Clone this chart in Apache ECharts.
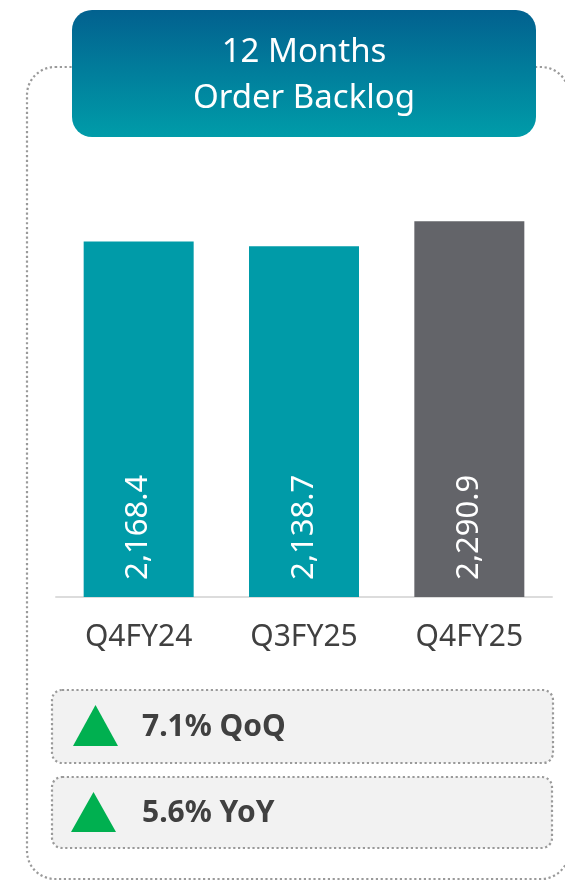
<!DOCTYPE html>
<html>
<head>
<meta charset="utf-8">
<script src="https://cdn.jsdelivr.net/npm/echarts@6/dist/echarts.min.js"></script>
<style>
  html, body { margin: 0; padding: 0; background: #fff; }
  #chart { width: 565px; height: 880px; }
</style>
</head>
<body>
<div id="chart"></div>
<script>
const titleLines = ['12 Months', 'Order Backlog'];
const categories = ['Q4FY24', 'Q3FY25', 'Q4FY25'];
const backlog = [2168.4, 2138.7, 2290.9];
const changes = ['7.1% QoQ', '5.6% YoY'];

const TEAL = '#009ba8';
const GREY = '#636469';
const FONT = '"Noto Sans", sans-serif';
const DOTS = { stroke: '#9a9a9a', lineWidth: 2.2, lineDash: [2.2, 2.6] };

const chart = echarts.init(document.getElementById('chart'));

// boxes under the chart for the growth figures
const changeBoxes = [
  { x: 52, y: 690, w: 501, h: 73, tri: [73, 705, 118, 746], tx: 142 },
  { x: 52, y: 777, w: 500, h: 71, tri: [71, 792, 116, 832], tx: 142 }
];

const graphics = [
  // dotted outer frame
  {
    type: 'rect', z: 1,
    shape: { x: 27, y: 67, width: 542, height: 812, r: 28 },
    style: Object.assign({ fill: 'none' }, DOTS)
  },
  // title box
  {
    type: 'rect', z: 2,
    shape: { x: 72, y: 10, width: 464, height: 127, r: 20 },
    style: {
      fill: new echarts.graphic.LinearGradient(0, 0, 0, 1, [
        { offset: 0, color: '#02618f' },
        { offset: 1, color: '#009ca9' }
      ])
    }
  }
];

titleLines.forEach((line, i) => {
  graphics.push({
    type: 'text', z: 3,
    x: 304, y: 53 + i * 46,
    style: {
      text: line, fill: '#fff', font: '33px ' + FONT,
      textAlign: 'center', textVerticalAlign: 'middle'
    }
  });
});

changes.forEach((txt, i) => {
  const b = changeBoxes[i];
  graphics.push({
    type: 'rect', z: 2,
    shape: { x: b.x, y: b.y, width: b.w, height: b.h, r: 10 },
    style: Object.assign({ fill: '#f2f2f2' }, DOTS)
  });
  const t = b.tri;
  graphics.push({
    type: 'polygon', z: 3,
    shape: { points: [[(t[0] + t[2]) / 2, t[1]], [t[2], t[3]], [t[0], t[3]]] },
    style: { fill: '#00b050' }
  });
  graphics.push({
    type: 'text', z: 3,
    x: b.tx, y: b.y + b.h / 2 + 1,
    style: {
      text: txt, fill: '#404040', font: 'bold 30px ' + FONT,
      textAlign: 'left', textVerticalAlign: 'middle'
    }
  });
});

const option = {
  animation: false,
  grid: { left: 56, right: 13, top: 187, bottom: 283 },
  xAxis: {
    type: 'category',
    data: categories,
    axisLine: { lineStyle: { color: '#dcdcdc', width: 2 } },
    axisTick: { show: false },
    axisLabel: { color: '#404040', fontSize: 30, fontFamily: FONT, margin: 25 }
  },
  yAxis: {
    type: 'value',
    min: 0,
    max: 2500,
    show: false,
    splitLine: { show: false }
  },
  series: [
    {
      type: 'bar',
      data: backlog,
      barWidth: 110,
      itemStyle: {
        color: p => (p.dataIndex === backlog.length - 1 ? GREY : TEAL)
      },
      label: {
        show: true,
        position: 'insideBottom',
        rotate: 90,
        align: 'left',
        verticalAlign: 'middle',
        distance: 17,
        color: '#fff',
        fontSize: 31,
        fontFamily: FONT,
        formatter: p => p.value.toLocaleString('en-US', { minimumFractionDigits: 1 })
      }
    }
  ],
  graphic: graphics
};

chart.setOption(option);
window.addEventListener('resize', () => chart.resize());
</script>
</body>
</html>
